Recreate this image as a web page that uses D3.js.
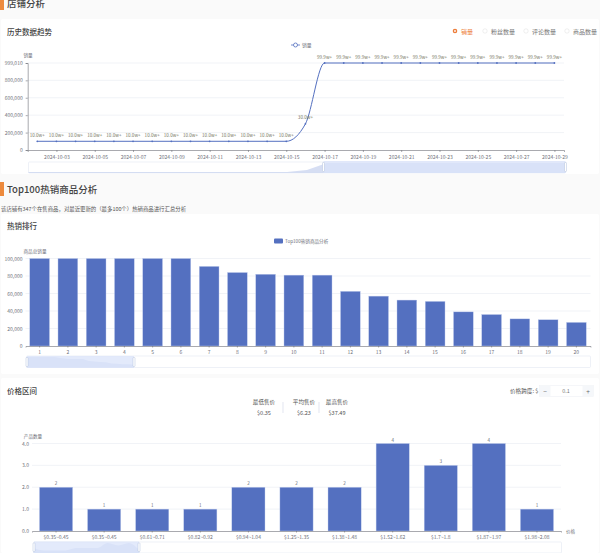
<!DOCTYPE html>
<html>
<head>
<meta charset="utf-8">
<script src="https://cdn.jsdelivr.net/npm/d3@7"></script>
<style>
  html, body { margin: 0; padding: 0; background: #fafafa; }
  svg { display: block; }
  text { font-family: "Noto Sans CJK SC", "Noto Sans", sans-serif; }
</style>
</head>
<body>
<div id="chart"></div>
<script>
const trendDates = ['2024-10-02','2024-10-03','2024-10-04','2024-10-05','2024-10-06','2024-10-07','2024-10-08','2024-10-09','2024-10-10','2024-10-11','2024-10-12','2024-10-13','2024-10-14','2024-10-15','2024-10-16','2024-10-17','2024-10-18','2024-10-19','2024-10-20','2024-10-21','2024-10-22','2024-10-23','2024-10-24','2024-10-25','2024-10-26','2024-10-27','2024-10-28','2024-10-29'];
const trendValues = [100000,100000,100000,100000,100000,100000,100000,100000,100000,100000,100000,100000,100000,100000,300000,999010,999010,999010,999010,999010,999010,999010,999010,999010,999010,999010,999010,999010];
const trendLabels = ['10.0w+','10.0w+','10.0w+','10.0w+','10.0w+','10.0w+','10.0w+','10.0w+','10.0w+','10.0w+','10.0w+','10.0w+','10.0w+','10.0w+','30.0w+','99.9w+','99.9w+','99.9w+','99.9w+','99.9w+','99.9w+','99.9w+','99.9w+','99.9w+','99.9w+','99.9w+','99.9w+','99.9w+'];
const trendTicks = [0,200000,400000,600000,800000,999010];
const radioLabels = ['销量','粉丝数量','评论数量','商品数量'];

const rankNames = ['1','2','3','4','5','6','7','8','9','10','11','12','13','14','15','16','17','18','19','20'];
const rankValues = [100000,100000,100000,100000,100000,100000,91000,84000,82000,81000,81000,62500,57000,52500,51000,39000,36000,31000,30000,27000];
const rankTicks = [0,20000,40000,60000,80000,100000];

const priceRanges = ['$0.35~0.45','$0.35~0.45','$0.61~0.71','$0.82~0.92','$0.94~1.04','$1.25~1.35','$1.38~1.48','$1.52~1.62','$1.7~1.8','$1.87~1.97','$1.98~2.08'];
const priceCounts = [2,1,1,1,2,2,2,4,3,4,1];
const priceTicks = [0,1,2,3,4];
const priceStats = [['最低售价','$0.35'],['平均售价','$6.23'],['最高售价','$37.49']];

const barColor = '#5470c0', axisColor = '#6e7079', gridColor = '#e8ebf2', labelColor = '#6e7079';

const svg = d3.select('#chart').append('svg').attr('width', 600).attr('height', 553);

const card = (x, y, w, h) => svg.append('rect').attr('x', x).attr('y', y).attr('width', w).attr('height', h).attr('fill', '#fff').attr('rx', 2);
const label = (x, y, s, size, color, anchor, weight) => svg.append('text').attr('x', x).attr('y', y)
  .attr('font-size', size).attr('fill', color).attr('text-anchor', anchor || 'start').attr('font-weight', weight || 400).text(s);

const sectionTitle = (y, s) => {
  svg.append('rect').attr('x', 0).attr('y', y - 8).attr('width', 4).attr('height', 14).attr('fill', '#ed8a3d');
  label(7, y + 3, s, 9.5, '#444', 'start', 500);
};

// drawn with the library's axis, then restyled like the original chart
const styleAxis = g => {
  g.selectAll('path.domain').attr('stroke', axisColor).attr('stroke-width', 0.6);
  g.selectAll('.tick line').attr('stroke', axisColor).attr('stroke-width', 0.6);
  g.selectAll('text').attr('fill', labelColor).attr('font-size', 5);
};

const drawGrid = (y, ticks, x0, x1) => {
  svg.append('g').selectAll('line').data(ticks.filter(d => d > 0)).enter().append('line')
    .attr('x1', x0).attr('x2', x1).attr('y1', d => y(d)).attr('y2', d => y(d))
    .attr('stroke', gridColor).attr('stroke-width', 0.6);
};

const drawSliderTrack = (x, y, w, h) => svg.append('rect').attr('x', x).attr('y', y).attr('width', w).attr('height', h)
  .attr('fill', '#fff').attr('stroke', '#e3e7f1').attr('stroke-width', 0.6).attr('rx', 1);

const drawSliderWindow = (x, y, w, h) => {
  svg.append('rect').attr('x', x).attr('y', y).attr('width', w).attr('height', h).attr('fill', '#d9e3fa').attr('fill-opacity', 0.75);
  [x, x + w].forEach(hx => svg.append('rect').attr('x', hx - 1).attr('y', y + 1.5).attr('width', 2).attr('height', h - 3)
    .attr('fill', '#fff').attr('stroke', '#b3c0dd').attr('stroke-width', 0.5).attr('rx', 0.6));
};

// shop trend
sectionTitle(4, '店铺分析');
card(1, 19, 598, 155);
label(7, 35, '历史数据趋势', 7.5, '#444', 'start', 500);

const radioX = [455, 485, 526, 567];
radioLabels.forEach((s, i) => {
  const on = i === 0;
  svg.append('circle').attr('cx', radioX[i]).attr('cy', 31).attr('r', on ? 1.6 : 2.2)
    .attr('fill', '#fff').attr('stroke', on ? '#ed7d3a' : '#e4e4e4').attr('stroke-width', on ? 1.4 : 0.6);
  label(radioX[i] + 6, 33.5, s, 6, on ? '#ed7d3a' : '#777');
});

const trendX = d3.scalePoint().domain(trendDates).range([27.7, 564]).padding(0.5);
const trendY = d3.scaleLinear().domain([0, 999010]).range([150, 63]);
drawGrid(trendY, [200000,400000,600000,800000,999010], 27.7, 564);

const trendLine = d3.line().x((d, i) => trendX(trendDates[i])).y(d => trendY(d)).curve(d3.curveMonotoneX);
svg.append('path').datum(trendValues).attr('d', trendLine).attr('fill', 'none').attr('stroke', barColor).attr('stroke-width', 1);
svg.append('g').selectAll('circle').data(trendValues).enter().append('circle')
  .attr('cx', (d, i) => trendX(trendDates[i])).attr('cy', d => trendY(d)).attr('r', 0.9).attr('fill', barColor);
svg.append('g').selectAll('text').data(trendValues).enter().append('text')
  .attr('x', (d, i) => trendX(trendDates[i])).attr('y', d => trendY(d) - 4.5)
  .attr('text-anchor', 'middle').attr('font-size', 4.6).attr('fill', '#77775f')
  .text((d, i) => trendLabels[i]);

svg.append('g').attr('transform', 'translate(0,150)')
  .call(d3.axisBottom(trendX).tickValues(trendDates.filter((d, i) => i % 2 === 1)).tickSize(2)).call(styleAxis);
svg.append('g').attr('transform', 'translate(27.7,0)')
  .call(d3.axisLeft(trendY).tickValues(trendTicks).tickSize(2).tickFormat(d3.format(','))).call(styleAxis);
label(28, 56.5, '销量', 4.6, labelColor, 'middle');

svg.append('line').attr('x1', 291).attr('x2', 300).attr('y1', 45).attr('y2', 45).attr('stroke', barColor).attr('stroke-width', 0.8);
svg.append('circle').attr('cx', 295.5).attr('cy', 45).attr('r', 2).attr('fill', '#fff').attr('stroke', barColor).attr('stroke-width', 0.8);
label(302, 47, '销量', 4.8, labelColor);

drawSliderTrack(28.5, 162, 537, 11);
const overviewX = d3.scalePoint().domain(trendDates).range([28.5, 565.5]);
const overviewY = d3.scaleLinear().domain([0, 999010]).range([173, 163]);
svg.append('path').datum(trendValues)
  .attr('d', d3.area().x((d, i) => overviewX(trendDates[i])).y0(173).y1(d => overviewY(d)))
  .attr('fill', '#ccd6f0').attr('fill-opacity', 0.8);
drawSliderWindow(323.5, 161, 242, 12);

// top 100
card(0, 175, 600, 39).attr('fill', '#fafafa');
sectionTitle(190, 'Top100热销商品分析');
label(1, 211, '该店铺有347个在售商品，对最近更新的（最多100个）热销商品进行汇总分析', 5.4, '#555');
card(1, 214, 598, 160);
label(7, 229, '热销排行', 7.5, '#444', 'start', 500);

const rankX = d3.scaleBand().domain(rankNames).range([25.5, 590.5]).paddingInner(0.3).paddingOuter(0.15);
const rankY = d3.scaleLinear().domain([0, 100000]).range([346, 258.5]);
drawGrid(rankY, rankTicks, 25.5, 590.5);
svg.append('g').selectAll('rect').data(rankValues).enter().append('rect')
  .attr('x', (d, i) => rankX(rankNames[i])).attr('width', rankX.bandwidth())
  .attr('y', d => rankY(d)).attr('height', d => 346 - rankY(d))
  .attr('fill', barColor).attr('stroke', '#c4cfee').attr('stroke-width', 0.4);
svg.append('g').attr('transform', 'translate(0,346)')
  .call(d3.axisBottom(d3.scaleBand().domain(rankNames).range([25.5, 590.5])).tickSize(1.5)).call(styleAxis);
svg.append('g').attr('transform', 'translate(25.5,0)')
  .call(d3.axisLeft(rankY).tickValues(rankTicks).tickSize(0).tickFormat(d3.format(','))).call(styleAxis)
  .selectAll('path.domain').attr('stroke', 'none');
label(35, 253, '商品总销量', 4.6, labelColor, 'middle');

svg.append('rect').attr('x', 274).attr('y', 238.5).attr('width', 9).attr('height', 5).attr('rx', 1).attr('fill', barColor);
label(285, 243, 'Top100热销商品分析', 4.6, labelColor);

drawSliderTrack(26.5, 356, 564, 11.5);
const rankOverviewX = d3.scalePoint().domain(rankNames).range([26.5, 134]);
const rankOverviewY = d3.scaleLinear().domain([0, 100000]).range([367.5, 357]);
svg.append('path').datum(rankValues)
  .attr('d', d3.area().x((d, i) => rankOverviewX(rankNames[i])).y0(367.5).y1(d => rankOverviewY(d)))
  .attr('fill', '#ccd6f0').attr('fill-opacity', 0.8);
drawSliderWindow(27, 356, 107, 12);

// price ranges
card(1, 378, 598, 175);
label(7, 394, '价格区间', 7.5, '#444', 'start', 500);

const statX = [264, 304, 337];
priceStats.forEach((s, i) => {
  label(statX[i], 404, s[0], 5.6, '#555', 'middle');
  label(statX[i], 415, s[1], 5.6, '#555', 'middle');
});
[283, 319].forEach(x => svg.append('line').attr('x1', x).attr('x2', x).attr('y1', 402).attr('y2', 413)
  .attr('stroke', '#d5daea').attr('stroke-width', 0.7));

label(510, 393, '价格跨度: $', 5.6, '#555');
svg.append('rect').attr('x', 539.5).attr('y', 385.5).attr('width', 54).attr('height', 11)
  .attr('fill', '#fff').attr('stroke', '#eceef3').attr('stroke-width', 0.5);
[[539.5, '−'], [582.5, '+']].forEach(b => {
  svg.append('rect').attr('x', b[0]).attr('y', 385.5).attr('width', 11).attr('height', 11).attr('fill', '#f5f7fa');
  label(b[0] + 5.5, 393.5, b[1], 6.5, '#666', 'middle');
});
label(566, 393, '0.1', 5.4, '#777', 'middle');

const priceX = d3.scaleBand().domain(priceRanges.map((d, i) => i)).range([32, 561]).paddingInner(0.31).paddingOuter(0.155);
const priceY = d3.scaleLinear().domain([0, 4]).range([531, 443.5]);
drawGrid(priceY, priceTicks, 32, 561);
svg.append('g').selectAll('rect').data(priceCounts).enter().append('rect')
  .attr('x', (d, i) => priceX(i)).attr('width', priceX.bandwidth())
  .attr('y', d => priceY(d)).attr('height', d => 531 - priceY(d))
  .attr('fill', barColor).attr('stroke', '#c4cfee').attr('stroke-width', 0.4);
svg.append('g').selectAll('text').data(priceCounts).enter().append('text')
  .attr('x', (d, i) => priceX(i) + priceX.bandwidth() / 2).attr('y', d => priceY(d) - 2)
  .attr('text-anchor', 'middle').attr('font-size', 4.6).attr('fill', labelColor).text(d => d);
svg.append('g').attr('transform', 'translate(0,531)')
  .call(d3.axisBottom(d3.scaleBand().domain(priceRanges.map((d, i) => i)).range([32, 561])).tickSize(1.5)
    .tickFormat(i => priceRanges[i])).call(styleAxis);
svg.append('g').attr('transform', 'translate(32,0)')
  .call(d3.axisLeft(priceY).tickValues(priceTicks).tickSize(0)).call(styleAxis)
  .selectAll('path.domain').attr('stroke', 'none');
label(33, 437.5, '产品数量', 4.6, labelColor, 'middle');
label(566, 533, '价格', 4.6, labelColor);

drawSliderTrack(33.5, 542, 528, 11);
const priceOverviewX = d3.scalePoint().domain(priceRanges.map((d, i) => i)).range([33.5, 139.5]);
const priceOverviewY = d3.scaleLinear().domain([0, 4]).range([553, 543]);
svg.append('path').datum(priceCounts)
  .attr('d', d3.area().x((d, i) => priceOverviewX(i)).y0(553).y1(d => priceOverviewY(d)).curve(d3.curveMonotoneX))
  .attr('fill', '#ccd6f0').attr('fill-opacity', 0.8);
drawSliderWindow(34, 541.5, 105, 11.5);
</script>
</body>
</html>
